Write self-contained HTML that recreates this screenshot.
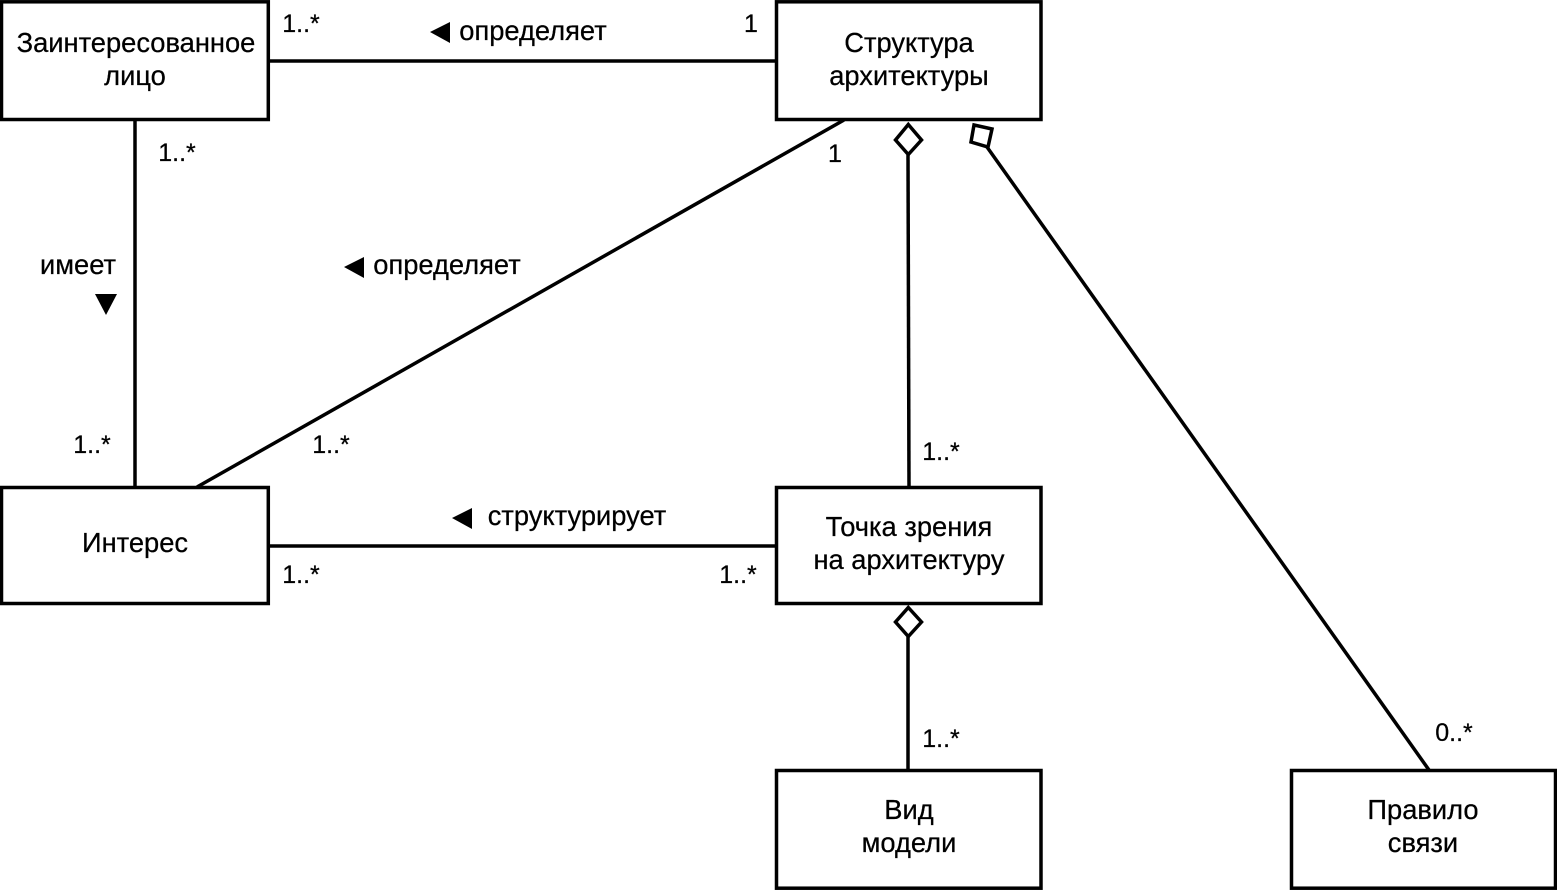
<!DOCTYPE html>
<html><head><meta charset="utf-8"><style>html,body{margin:0;padding:0;background:#fff;width:1557px;height:890px;overflow:hidden}svg{display:block}text{font-family:"Liberation Sans",sans-serif;font-size:27.3px;fill:#000;text-anchor:middle;stroke:#000;stroke-width:.25}text.n{font-size:25px}</style></head><body>
<svg width="1557" height="890" viewBox="0 0 1557 890" xmlns="http://www.w3.org/2000/svg">
<g fill="none" stroke="#000" stroke-width="3.5">
<line x1="269" y1="61" x2="776" y2="61"/>
<line x1="135" y1="120" x2="135" y2="487"/>
<line x1="844" y1="120" x2="197" y2="487"/>
<line x1="908" y1="155" x2="909" y2="487"/>
<line x1="987" y1="147" x2="1429" y2="770"/>
<line x1="269" y1="546" x2="776" y2="546"/>
<line x1="908" y1="637" x2="908" y2="770"/>
<polygon fill="#fff" points="908.3,124.5 921.5,140 908.3,154.5 895.5,140"/>
<polygon fill="#fff" points="908.3,607.5 921.5,622 908.3,636.5 895.5,622"/>
<polygon fill="#fff" points="974,125 992,129 988,147 971,142"/>
</g>
<g fill="#fff" stroke="#000" stroke-width="3.5">
<rect x="1.5" y="1.8" width="266.8" height="117.7"/>
<rect x="776.5" y="1.8" width="264.5" height="117.7"/>
<rect x="1.5" y="487.5" width="266.8" height="116"/>
<rect x="776.5" y="487.5" width="264.5" height="116"/>
<rect x="776.5" y="770.5" width="264.5" height="117.7"/>
<rect x="1291.5" y="770.5" width="264" height="117.7"/>
</g>
<g fill="#000">
<polygon points="450,22 430,32 450,43"/>
<polygon points="364,257 344,267 364,278"/>
<polygon points="472,508 452,518 472,529"/>
<polygon points="95,294 117,294 106,315"/>
</g>
<text x="136" y="52">Заинтересованное</text>
<text x="135" y="85">лицо</text>
<text x="909" y="52">Структура</text>
<text x="909" y="85">архитектуры</text>
<text x="135" y="552">Интерес</text>
<text x="909" y="536">Точка зрения</text>
<text x="909" y="569">на архитектуру</text>
<text x="909" y="819">Вид</text>
<text x="909" y="852">модели</text>
<text x="1423" y="819">Правило</text>
<text x="1423" y="852">связи</text>
<text x="533" y="40">определяет</text>
<text x="447" y="274">определяет</text>
<text x="577" y="525">структурирует</text>
<text x="78" y="274">имеет</text>
<text class="n" x="301" y="32">1..*</text>
<text class="n" x="751" y="32">1</text>
<text class="n" x="177" y="161">1..*</text>
<text class="n" x="835" y="162">1</text>
<text class="n" x="92" y="453">1..*</text>
<text class="n" x="331" y="453">1..*</text>
<text class="n" x="941" y="460">1..*</text>
<text class="n" x="301" y="583">1..*</text>
<text class="n" x="738" y="583">1..*</text>
<text class="n" x="941" y="747">1..*</text>
<text class="n" x="1454" y="741">0..*</text>
</svg>
</body></html>
